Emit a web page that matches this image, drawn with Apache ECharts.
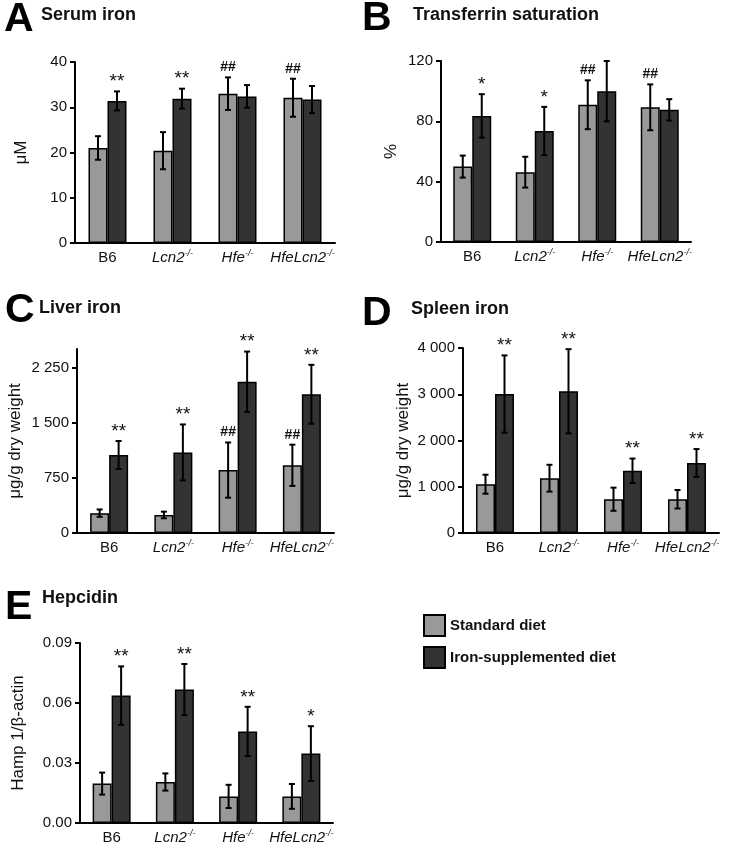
<!DOCTYPE html>
<html>
<head>
<meta charset="utf-8">
<script src="https://cdn.jsdelivr.net/npm/echarts@6/dist/echarts.min.js"></script>
<style>html,body{margin:0;padding:0;background:#fff;}#c{width:739px;height:854px;}</style>
</head>
<body>
<div id="c"></div>
<script>
// ---- Data ----
var categories = ['B6', 'Lcn2', 'Hfe', 'HfeLcn2'];
var seriesNames = ['Standard diet', 'Iron-supplemented diet'];

// A: Serum iron (µM)
var serumStd = [21.0, 20.4, 33.0, 32.1];
var serumStdErr = [2.6, 4.1, 3.6, 4.2];
var serumIron = [31.4, 31.9, 32.4, 31.7];
var serumIronErr = [2.1, 2.2, 2.5, 3.0];
var serumStdMark = ['', '', '##', '##'];
var serumIronMark = ['**', '**', '', ''];

// B: Transferrin saturation (%)
var tsatStd = [50.0, 46.3, 91.0, 89.3];
var tsatStdErr = [7.3, 10.2, 16.2, 15.2];
var tsatIron = [83.6, 73.6, 100.0, 87.6];
var tsatIronErr = [14.4, 16.0, 20.0, 7.1];
var tsatStdMark = ['', '', '##', '##'];
var tsatIronMark = ['*', '*', '', ''];

// C: Liver iron (µg/g dry weight)
var liverStd = [270, 245, 855, 920];
var liverStdErr = [50, 45, 375, 280];
var liverIron = [1060, 1095, 2055, 1885];
var liverIronErr = [190, 380, 410, 400];
var liverStdMark = ['', '', '##', '##'];
var liverIronMark = ['**', '**', '**', '**'];

// D: Spleen iron (µg/g dry weight)
var spleenStd = [1055, 1185, 730, 730];
var spleenStdErr = [205, 290, 250, 200];
var spleenIron = [3005, 3065, 1345, 1515];
var spleenIronErr = [835, 910, 265, 300];
var spleenStdMark = ['', '', '', ''];
var spleenIronMark = ['**', '**', '**', '**'];

// E: Hepcidin (Hamp 1/β-actin)
var hepStd = [0.0197, 0.0205, 0.0133, 0.0133];
var hepStdErr = [0.0055, 0.0043, 0.0058, 0.0062];
var hepIron = [0.0637, 0.0667, 0.0458, 0.0347];
var hepIronErr = [0.0146, 0.0128, 0.0123, 0.0137];
var hepStdMark = ['', '', '', ''];
var hepIronMark = ['**', '**', '**', '*'];

// Tick values
var serumTicks = [0, 10, 20, 30, 40];
var tsatTicks = [0, 40, 80, 120];
var liverTicks = [0, 750, 1500, 2250];
var spleenTicks = [0, 1000, 2000, 3000, 4000];
var hepTicks = [0, 0.03, 0.06, 0.09];

// ---- Styling ----
var FONT = '"Liberation Sans", Arial, Helvetica, sans-serif';
var STD_COLOR = '#999999';
var IRON_COLOR = '#333333';
var BAR_W = 19;

var panels = [
  {grid: {left: 75, top: 62, width: 260, height: 181}, max: 40, ticks: serumTicks, name: 'μM', nameGap: 45,
   std: serumStd, stdErr: serumStdErr, iron: serumIron, ironErr: serumIronErr, stdMark: serumStdMark, ironMark: serumIronMark, fmt: 'int'},
  {grid: {left: 441, top: 61, width: 250, height: 181}, max: 120, ticks: tsatTicks, name: '%', nameGap: 41,
   std: tsatStd, stdErr: tsatStdErr, iron: tsatIron, ironErr: tsatIronErr, stdMark: tsatStdMark, ironMark: tsatIronMark, fmt: 'int'},
  {grid: {left: 77, top: 349, width: 257, height: 184}, max: 2500, ticks: liverTicks, name: 'μg/g dry weight', nameGap: 53,
   std: liverStd, stdErr: liverStdErr, iron: liverIron, ironErr: liverIronErr, stdMark: liverStdMark, ironMark: liverIronMark, fmt: 'thou'},
  {grid: {left: 463, top: 348, width: 256, height: 185}, max: 4000, ticks: spleenTicks, name: 'μg/g dry weight', nameGap: 51,
   std: spleenStd, stdErr: spleenStdErr, iron: spleenIron, ironErr: spleenIronErr, stdMark: spleenStdMark, ironMark: spleenIronMark, fmt: 'thou'},
  {grid: {left: 80, top: 643, width: 253, height: 180}, max: 0.09, ticks: hepTicks, name: 'Hamp 1/β-actin', nameGap: 53,
   std: hepStd, stdErr: hepStdErr, iron: hepIron, ironErr: hepIronErr, stdMark: hepStdMark, ironMark: hepIronMark, fmt: 'dec2'}
];

function fmtVal(kind) {
  return function (v) {
    if (kind === 'dec2') return v.toFixed(2);
    if (kind === 'thou' && v >= 1000) {
      var s = String(Math.round(v));
      return s.slice(0, s.length - 3) + ' ' + s.slice(s.length - 3);
    }
    return String(Math.round(v));
  };
}

function catLabel(v) {
  if (v === 'B6') return '{n|B6}';
  return '{i|' + v + '}{s|-/-}';
}

function errRenderer(offset, marks) {
  return function (params, api) {
    var i = api.value(0), m = api.value(1), e = api.value(2);
    var top = api.coord([i, m + e]);
    var bot = api.coord([i, m - e]);
    var cx = top[0] + offset;
    var cap = 3;
    var ls = {stroke: '#000', lineWidth: 2};
    var children = [
      {type: 'line', shape: {x1: cx, y1: top[1], x2: cx, y2: bot[1]}, style: ls},
      {type: 'line', shape: {x1: cx - cap, y1: top[1], x2: cx + cap, y2: top[1]}, style: ls},
      {type: 'line', shape: {x1: cx - cap, y1: bot[1], x2: cx + cap, y2: bot[1]}, style: ls}
    ];
    var mk = marks[params.dataIndex];
    if (mk) {
      var isStar = mk.indexOf('*') >= 0;
      children.push({type: 'text', x: cx, y: top[1] - (isStar ? 0 : 3), style: {
        text: mk, fill: '#111', font: (isStar ? '19px ' : 'bold 14px ') + FONT,
        align: 'center', verticalAlign: 'bottom'
      }});
    }
    return {type: 'group', children: children};
  };
}

var option = {
  animation: false,
  backgroundColor: '#fff',
  textStyle: {fontFamily: FONT},
  grid: [], xAxis: [], yAxis: [], series: [],
  legend: {
    orient: 'vertical', left: 418, top: 609, itemWidth: 21, itemHeight: 21, itemGap: 9,
    icon: 'rect', data: seriesNames, selectedMode: false,
    textStyle: {fontFamily: FONT, fontSize: 15, fontWeight: 'bold', color: '#111'}
  },
  graphic: []
};

panels.forEach(function (p, k) {
  option.grid.push(Object.assign({containLabel: false}, p.grid));
  option.xAxis.push({
    type: 'category', gridIndex: k, data: categories,
    axisLine: {lineStyle: {color: '#000', width: 2}},
    axisTick: {show: false},
    axisLabel: {
      margin: 6, interval: 0, hideOverlap: false, formatter: catLabel, color: '#111',
      rich: {
        n: {fontSize: 15, fontFamily: FONT, color: '#111', lineHeight: 18},
        i: {fontSize: 15, fontFamily: FONT, fontStyle: 'italic', color: '#111', lineHeight: 18},
        s: {fontSize: 9, fontFamily: FONT, fontStyle: 'italic', color: '#111', verticalAlign: 'top', lineHeight: 18, padding: [0, 0, 6, 0]}
      }
    }
  });
  option.yAxis.push({
    type: 'value', gridIndex: k, min: 0, max: p.max,
    interval: p.ticks[1] - p.ticks[0],
    splitLine: {show: false},
    axisLine: {show: true, lineStyle: {color: '#000', width: 2}},
    axisTick: {show: true, length: 5, lineStyle: {color: '#000', width: 2}, customValues: p.ticks},
    axisLabel: {fontSize: 15, color: '#111', margin: 8, formatter: fmtVal(p.fmt), customValues: p.ticks},
    name: p.name, nameLocation: 'middle', nameGap: p.nameGap, nameRotate: 90,
    nameTextStyle: {fontSize: 17, color: '#111', fontFamily: FONT}
  });
  option.series.push({
    name: seriesNames[0], type: 'bar', xAxisIndex: k, yAxisIndex: k,
    data: p.std, barWidth: BAR_W, barGap: '0%',
    itemStyle: {color: STD_COLOR, borderColor: '#000', borderWidth: 1.5}
  });
  option.series.push({
    name: seriesNames[1], type: 'bar', xAxisIndex: k, yAxisIndex: k,
    data: p.iron, barWidth: BAR_W, barGap: '0%',
    itemStyle: {color: IRON_COLOR, borderColor: '#000', borderWidth: 1.5}
  });
  option.series.push({
    type: 'custom', xAxisIndex: k, yAxisIndex: k, z: 5,
    renderItem: errRenderer(-BAR_W / 2, p.stdMark),
    encode: {x: 0, y: 1},
    data: p.std.map(function (v, i) { return [i, v, p.stdErr[i]]; })
  });
  option.series.push({
    type: 'custom', xAxisIndex: k, yAxisIndex: k, z: 5,
    renderItem: errRenderer(BAR_W / 2, p.ironMark),
    encode: {x: 0, y: 1},
    data: p.iron.map(function (v, i) { return [i, v, p.ironErr[i]]; })
  });
});

var headers = [
  {letter: 'A', lx: 4, ly: 20, title: 'Serum iron', tx: 41, ty: 15},
  {letter: 'B', lx: 362, ly: 19, title: 'Transferrin saturation', tx: 413, ty: 15},
  {letter: 'C', lx: 5, ly: 311, title: 'Liver iron', tx: 39, ty: 308},
  {letter: 'D', lx: 362, ly: 314, title: 'Spleen iron', tx: 411, ty: 309},
  {letter: 'E', lx: 5, ly: 608, title: 'Hepcidin', tx: 42, ty: 598}
];
headers.forEach(function (h) {
  option.graphic.push({type: 'text', x: h.lx, y: h.ly, style: {
    text: h.letter, font: 'bold 41px ' + FONT, fill: '#000', verticalAlign: 'middle', align: 'left'}});
  option.graphic.push({type: 'text', x: h.tx, y: h.ty, style: {
    text: h.title, font: 'bold 18px ' + FONT, fill: '#111', verticalAlign: 'middle', align: 'left'}});
});

var chart = echarts.init(document.getElementById('c'), null, {renderer: 'canvas'});
chart.setOption(option);
</script>
</body>
</html>
